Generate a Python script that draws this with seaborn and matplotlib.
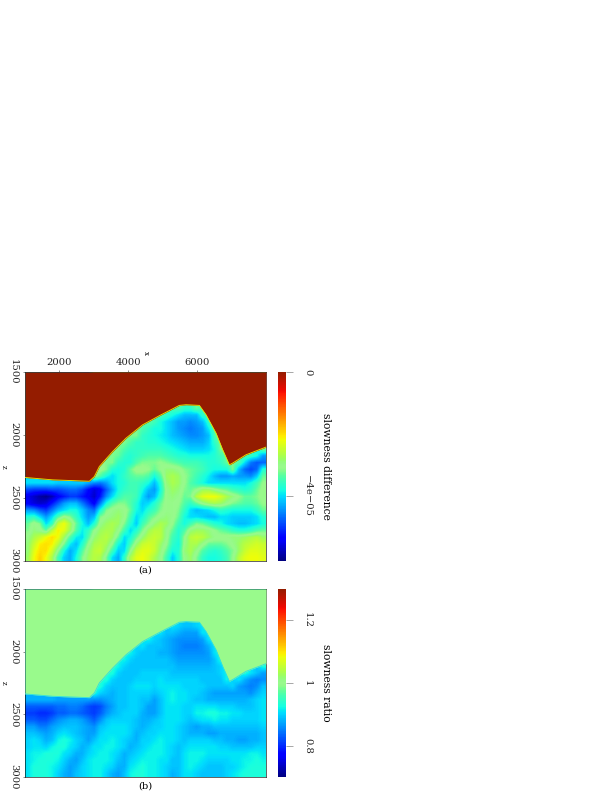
import numpy as np
import seaborn as sns
import matplotlib.pyplot as plt
from matplotlib.colors import ListedColormap

# values: rows go down in z, columns go right in x
# slowness difference in units of 1e-6, 0 above the sea floor
diff_rows = [
    [0]*40, [0]*40, [0]*40, [0]*40, [0]*40,
    [0]*24+[-34,-34,-36,-36,-33]+[0]*11,
    [0]*22+[-34,-36,-38,-40,-42,-42,-42,-36]+[0]*10,
    [0]*20+[-33,-35,-38,-40,-42,-44,-44,-45,-44,-42,-36]+[0]*9,
    [0]*19+[-34,-36,-38,-38,-40,-42,-44,-45,-46,-45,-44,-39]+[0]*9,
    [0]*17+[-32,-32,-36,-37,-38,-39,-40,-42,-43,-44,-45,-45,-44,-42,-34]+[0]*8,
    [0]*16+[-32,-34,-36,-36,-37,-37,-38,-39,-40,-41,-42,-43,-43,-43,-41,-36,-32]+[0]*7,
    [0]*15+[-32,-34,-36,-36,-36,-36,-36,-36,-37,-38,-39,-40,-41,-41,-41,-40,-38,-32]+[0]*6+[-32],
    [0]*14+[-32,-33,-36,-37,-36,-35,-34,-34,-34,-35,-36,-37,-37,-38,-38,-38,-38,-37,-35]+[0]*3+[-34,-36,-38,-44],
    [0]*13+[-32,-32,-36,-37,-37,-34,-32,-32,-32,-31,-32,-33,-34,-35,-35,-35,-36,-37,-37,-36,-33]+[0]+[-34,-40,-46,-48,-47],
    [0]*12+[-30,-32,-37,-38,-37,-33,-30,-30,-31,-33,-31,-29,-29,-30,-32,-33,-34,-35,-37,-38,-38,-38,-32,-42,-47,-49,-47,-37],
    [0]*11+[-30,-34,-38,-40,-38,-36,-34,-33,-33,-34,-38,-34,-28,-27,-28,-31,-33,-35,-37,-39,-42,-44,-44,-43,-44,-44,-45,-41,-33],
    [-40,-40,-40,-40,-40,-41,-41,-41,-41,-41,-43,-45,-46,-44,-40,-38,-37,-35,-35,-36,-38,-42,-37,-29,-27,-28,-31,-34,-36,-38,-40,-40,-40,-40,-40,-40,-40,-38,-35,-31],
    [-49,-50,-50,-50,-49,-49,-48,-47,-47,-49,-53,-56,-54,-48,-43,-38,-36,-35,-35,-38,-42,-44,-38,-30,-28,-29,-32,-33,-31,-28,-28,-30,-32,-33,-35,-36,-37,-36,-33,-30],
    [-55,-57,-59,-60,-58,-54,-52,-50,-50,-52,-54,-57,-52,-45,-40,-36,-34,-34,-35,-40,-44,-42,-36,-30,-29,-30,-33,-32,-26,-23,-22,-22,-24,-27,-29,-31,-33,-33,-32,-30],
    [-54,-56,-57,-56,-52,-48,-44,-42,-42,-46,-50,-54,-46,-38,-34,-32,-32,-34,-37,-41,-40,-37,-33,-30,-30,-31,-34,-36,-33,-30,-28,-27,-28,-30,-32,-33,-34,-34,-33,-31],
    [-44,-45,-48,-50,-46,-42,-40,-38,-38,-41,-45,-47,-38,-32,-30,-29,-30,-33,-38,-40,-37,-35,-32,-30,-30,-32,-36,-40,-42,-41,-40,-38,-36,-37,-38,-38,-38,-38,-36,-33],
    [-37,-36,-40,-44,-40,-34,-30,-32,-36,-40,-44,-42,-32,-30,-29,-28,-30,-35,-40,-38,-34,-32,-30,-29,-30,-33,-38,-40,-40,-41,-42,-42,-40,-40,-41,-41,-41,-41,-40,-37],
    [-33,-30,-32,-40,-36,-25,-22,-27,-33,-38,-42,-37,-30,-28,-27,-28,-32,-37,-41,-35,-32,-29,-27,-28,-31,-35,-38,-35,-32,-33,-35,-37,-38,-40,-41,-42,-42,-41,-40,-38],
    [-32,-29,-30,-33,-26,-21,-23,-28,-34,-39,-36,-31,-28,-27,-27,-30,-35,-40,-37,-32,-28,-26,-26,-30,-33,-37,-34,-29,-28,-28,-29,-31,-33,-34,-36,-37,-37,-36,-34,-33],
    [-30,-27,-25,-22,-20,-22,-28,-34,-39,-40,-34,-29,-27,-26,-28,-33,-40,-38,-33,-29,-26,-25,-26,-30,-35,-37,-31,-26,-25,-26,-28,-30,-30,-30,-29,-29,-28,-27,-26,-28],
    [-29,-25,-21,-20,-21,-26,-32,-39,-42,-37,-31,-27,-26,-27,-31,-38,-41,-35,-29,-25,-24,-25,-28,-31,-36,-38,-30,-27,-27,-30,-33,-33,-33,-32,-30,-28,-26,-25,-24,-25],
    [-29,-23,-20,-20,-24,-31,-38,-43,-40,-34,-29,-26,-25,-29,-35,-41,-40,-31,-25,-23,-23,-25,-29,-33,-38,-37,-29,-27,-30,-34,-36,-37,-36,-34,-32,-28,-25,-23,-23,-24],
    [-28,-22,-19,-22,-27,-35,-41,-43,-38,-32,-28,-26,-27,-32,-40,-43,-36,-27,-23,-22,-24,-27,-30,-35,-41,-37,-30,-28,-32,-36,-38,-38,-37,-35,-31,-26,-23,-22,-22,-23],
]

# slowness ratio in percent, 100 above the sea floor
ratio_rows = [
    [100]*40, [100]*40, [100]*40, [100]*40, [100]*40,
    [100]*24+[91,90,89,89,90]+[100]*11,
    [100]*22+[91,89,89,88,87,87,87,91]+[100]*10,
    [100]*20+[92,90,89,88,87,86,86,86,86,87,91]+[100]*9,
    [100]*19+[91,89,89,89,88,87,86,85,85,85,86,88]+[100]*9,
    [100]*17+[92,90,89,89,89,88,88,87,86,86,86,86,86,87,91]+[100]*8,
    [100]*16+[92,90,89,89,89,89,89,89,88,87,87,87,87,87,87,89,93]+[100]*7,
    [100]*15+[92,90,89,89,89,89,89,89,89,89,88,88,88,88,88,88,89,90]+[100]*6+[93],
    [100]*14+[93,90,89,89,89,90,90,90,90,90,89,89,89,89,89,89,89,89,90]+[100]*3+[93,91,89,87],
    [100]*13+[93,90,89,89,89,90,90,90,90,91,90,90,90,90,90,90,89,89,89,89,92]+[100]+[91,88,86,85,86],
    [100]*12+[93,90,89,89,89,90,91,91,91,90,91,91,91,91,90,90,90,90,89,89,89,89,90,87,86,85,86,89],
    [100]*11+[93,90,89,88,89,89,90,90,90,90,89,90,91,92,91,91,90,90,89,88,87,87,87,87,87,87,86,88,90],
    [88,88,88,88,88,87,87,87,87,87,87,86,86,87,88,89,89,90,90,89,89,87,89,91,92,91,91,90,89,89,88,88,88,88,88,88,88,89,90,91],
    [83,83,83,83,83,84,84,85,85,84,82,81,82,85,87,89,89,90,90,89,87,87,89,91,91,91,90,90,91,91,91,91,90,90,90,89,89,89,90,91],
    [81,81,80,80,81,83,83,84,84,83,82,81,83,86,88,89,90,90,90,88,87,87,89,91,91,91,90,90,92,92,93,93,92,92,91,91,90,90,90,91],
    [83,83,82,82,84,86,87,88,88,87,85,83,86,89,90,90,90,90,89,88,88,89,90,91,91,91,90,89,90,91,91,92,91,91,90,90,90,90,90,91],
    [87,87,85,85,87,88,89,89,89,88,87,86,89,90,91,91,91,90,89,88,89,90,90,91,91,90,89,88,87,88,88,89,89,89,89,89,89,89,89,90],
    [89,89,88,87,88,90,91,90,89,88,87,87,90,91,91,91,91,90,88,89,90,90,91,91,91,90,89,88,88,88,87,87,88,88,88,88,88,88,88,89],
    [90,91,90,88,89,92,93,92,90,89,87,89,91,91,92,91,90,89,88,90,90,91,92,91,91,90,89,90,90,90,90,89,89,88,88,87,87,88,88,89],
    [90,91,91,90,92,93,93,91,90,88,89,91,91,92,92,91,90,88,89,90,91,92,92,91,90,89,90,91,91,91,91,91,90,90,89,89,89,89,90,90],
    [91,92,92,93,93,93,91,90,88,88,90,91,92,92,91,90,88,89,90,91,92,92,92,91,90,89,91,92,92,92,91,91,91,91,91,91,91,92,92,91],
    [91,92,93,93,93,92,90,88,87,89,91,92,92,92,91,89,88,90,91,92,92,92,91,91,89,89,91,92,92,91,90,90,90,90,91,91,92,92,93,92],
    [91,93,93,93,92,91,89,87,88,90,91,92,92,91,90,88,88,91,92,93,92,92,91,90,89,89,91,92,91,90,89,89,89,90,90,91,92,93,93,93],
    [91,93,93,93,92,90,88,87,89,90,91,92,92,90,88,87,89,92,93,93,92,92,91,90,88,89,91,91,90,89,89,89,89,90,91,92,93,93,93,93],
]

# sea floor
floor_x = [1000, 1804, 2869, 3014, 3159, 3546, 3934, 4418, 4902, 5483, 5676, 6064, 6257, 6548, 6741, 6935, 7032, 7419, 8000]
floor_z = [2337, 2356, 2367, 2330, 2250, 2131, 2025, 1919, 1847, 1765, 1760, 1765, 1839, 1985, 2117, 2237, 2223, 2157, 2096]

diff_ticks = [-40, 0]
diff_ticklabels = ['\u22124e\u221205', '0']
ratio_ticks = [80, 100, 120]
ratio_ticklabels = ['0.8', '1', '1.2']
x_ticks = [2000, 4000, 6000]
z_ticks = [1500, 2000, 2500, 3000]

plt.rcParams['font.family'] = ['DejaVu Serif', 'DejaVu Sans']
plt.rcParams['font.size'] = 10
plt.rcParams['axes.linewidth'] = 0.6

base = plt.get_cmap('jet')(np.linspace(0, 1, 256))
base[230:, 0] = np.linspace(base[230, 0], 0.58, 26)
base[230:, 1] = np.linspace(base[230, 1], 0.11, 26)
# the green in the middle of the reference bar is paler than plain jet
pale = np.exp(-((np.linspace(0, 1, 256)-0.5)/0.03)**2)
base[:, 0] += pale*(0.60-base[:, 0])
base[:, 1] += pale*(0.98-base[:, 1])
base[:, 2] += pale*(0.55-base[:, 2])
cmap = ListedColormap(base)

W, H = 612, 792
fig = plt.figure(figsize=(8.5, 11), dpi=72)


def box(left, top, right, bottom):
    return [left/W, 1-bottom/H, (right-left)/W, (bottom-top)/H]


def panel(rows, water, vmin, vmax, top, bottom, ticks, ticklabels, label, caption, show_x, rim):
    ax = fig.add_axes(box(25, top, 266, bottom))
    cax = fig.add_axes(box(278, top, 286, bottom))
    grid = np.array(rows, dtype=float)
    sns.heatmap(grid, ax=ax, cbar_ax=cax, cmap=cmap, vmin=vmin, vmax=vmax,
                xticklabels=False, yticklabels=False, linewidths=0)
    nz, nx = grid.shape

    # smooth view of the same cells, water cells take the value just below them
    under = grid.copy()
    for c in range(nx):
        first = np.argmax(grid[:, c] != water)
        under[:first, c] = grid[first, c]
    ax.imshow(under, cmap=cmap, vmin=vmin, vmax=vmax, interpolation='bilinear',
              extent=(0, nx, nz, 0), aspect='auto', zorder=2)

    fx = [(v-1000)/7000*nx for v in floor_x]
    fz = [(v-1500)/1500*nz for v in floor_z]
    water_color = cmap((water-vmin)/(vmax-vmin))
    ax.fill_between(fx, 0, fz, color=water_color, lw=0, zorder=3)
    ax.plot(fx, fz, color=rim, lw=0.9, zorder=4)
    ax.set_xlim(0, nx)
    ax.set_ylim(nz, 0)

    ax.set_xticks([(v-1000)/7000*nx for v in x_ticks])
    ax.set_yticks([(v-1500)/1500*nz for v in z_ticks])
    ax.xaxis.tick_top()
    if show_x:
        ax.set_xticklabels([str(v) for v in x_ticks])
        ax.text(0.5, 1.103, 'x', transform=ax.transAxes, rotation=-90, ha='center', va='center', fontsize=7)
    else:
        ax.set_xticks([])
    ax.set_yticklabels([str(v) for v in z_ticks], rotation=-90, va='center')
    ax.tick_params(axis='x', length=2, width=0.5, pad=3, color='#222222', labelcolor='#222222')
    ax.tick_params(axis='y', length=2, width=0.5, pad=5, color='#222222', labelcolor='#222222')
    ax.text(-0.088, 0.5, 'z', transform=ax.transAxes, rotation=-90, ha='center', va='center', fontsize=7)
    ax.text(0.5, -0.047, caption, transform=ax.transAxes, ha='center', va='center')
    for s in ax.spines.values():
        s.set_visible(True)
        s.set_linewidth(0.6)
    cbar = ax.collections[0].colorbar
    cbar.set_ticks(ticks)
    cbar.set_ticklabels(ticklabels, rotation=-90, va='center')
    cbar.ax.tick_params(length=7, width=0.5, pad=10, color='#555555', labelcolor='#222222')
    cbar.set_label(label, rotation=-90, labelpad=9, va='bottom', fontsize=10.8)
    cbar.outline.set_visible(False)
    return ax


panel(diff_rows, 0, -61, 0, 372, 561, diff_ticks, diff_ticklabels, 'slowness difference', '(a)', True, '#e6e000')
panel(ratio_rows, 100, 70, 130, 589, 777, ratio_ticks, ratio_ticklabels, 'slowness ratio', '(b)', False, '#30e0e0')

fig.savefig('out.png', dpi=72)
